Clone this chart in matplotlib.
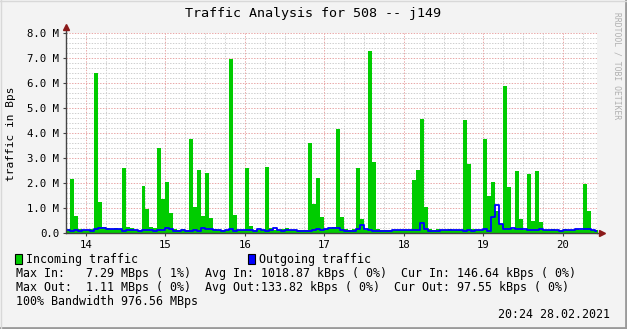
import matplotlib
matplotlib.use("Agg")
import matplotlib.pyplot as plt
from matplotlib.patches import Rectangle
from matplotlib.lines import Line2D
import numpy as np

W, H = 627, 329
MONO = "DejaVu Sans Mono"
GREEN, BLUE = "#00CC00", "#0000FF"
BG = "#F3F3F3"

# 3-minute samples starting 13:45, values in MBps
T0, STEP = 13.75, 0.05
traffic_in = [
    0.15, 2.16, 0.68, 0.15, 0.12, 0.12, 0.14, 6.39, 1.24, 0.25,
    0.20, 0.15, 0.20, 0.15, 2.60, 0.25, 0.18, 0.10, 0.12, 1.88,
    0.96, 0.25, 0.20, 3.40, 1.36, 2.04, 0.80, 0.15, 0.10, 0.15,
    0.12, 3.76, 1.04, 2.52, 0.69, 2.40, 0.60, 0.15, 0.12, 0.12,
    0.12, 6.96, 0.72, 0.12, 0.12, 2.60, 0.28, 0.12, 0.12, 0.12,
    2.64, 0.20, 0.12, 0.12, 0.15, 0.18, 0.12, 0.12, 0.12, 0.12,
    0.12, 3.60, 1.16, 2.20, 0.64, 0.15, 0.20, 0.25, 4.16, 0.64,
    0.15, 0.12, 0.15, 2.60, 0.56, 0.12, 7.28, 2.84, 0.15, 0.12,
    0.12, 0.12, 0.12, 0.12, 0.12, 0.12, 0.12, 2.12, 2.52, 4.56,
    1.04, 0.15, 0.12, 0.15, 0.12, 0.12, 0.15, 0.12, 0.12, 0.12,
    4.52, 2.76, 0.15, 0.12, 0.12, 3.76, 1.48, 2.04, 0.88, 0.36,
    5.88, 1.84, 0.15, 2.48, 0.56, 0.12, 2.36, 0.48, 2.48, 0.44,
    0.12, 0.12, 0.15, 0.12, 0.12, 0.15, 0.12, 0.12, 0.15, 0.12,
    1.96, 0.88, 0.12, 0.10,
]
traffic_out = [
    0.12, 0.08, 0.12, 0.10, 0.12, 0.12, 0.08, 0.18, 0.22, 0.22,
    0.17, 0.17, 0.15, 0.15, 0.10, 0.12, 0.12, 0.12, 0.10, 0.12,
    0.12, 0.12, 0.08, 0.12, 0.12, 0.22, 0.15, 0.10, 0.10, 0.12,
    0.10, 0.10, 0.12, 0.10, 0.20, 0.15, 0.15, 0.12, 0.12, 0.10,
    0.12, 0.17, 0.08, 0.12, 0.12, 0.12, 0.12, 0.10, 0.17, 0.12,
    0.10, 0.12, 0.22, 0.12, 0.08, 0.12, 0.12, 0.12, 0.10, 0.10,
    0.10, 0.10, 0.12, 0.15, 0.12, 0.15, 0.20, 0.20, 0.20, 0.12,
    0.10, 0.10, 0.10, 0.15, 0.31, 0.15, 0.12, 0.10, 0.10, 0.10,
    0.10, 0.10, 0.12, 0.12, 0.12, 0.12, 0.12, 0.14, 0.14, 0.39,
    0.15, 0.10, 0.10, 0.10, 0.12, 0.12, 0.14, 0.14, 0.12, 0.12,
    0.10, 0.12, 0.10, 0.12, 0.12, 0.15, 0.08, 0.63, 1.11, 0.35,
    0.16, 0.18, 0.20, 0.15, 0.15, 0.15, 0.12, 0.14, 0.12, 0.15,
    0.12, 0.12, 0.12, 0.12, 0.10, 0.12, 0.12, 0.12, 0.18, 0.15,
    0.15, 0.15, 0.12, 0.10,
]
hour_ticks = [14, 15, 16, 17, 18, 19, 20]
y_ticks = [0, 1, 2, 3, 4, 5, 6, 7, 8]
y_labels = ["0.0"] + [f"{v:.1f} M" for v in y_ticks[1:]]

title = "Traffic Analysis for 508 -- j149"
stats = [
    "Max In:   7.29 MBps ( 1%)  Avg In: 1018.87 kBps ( 0%)  Cur In: 146.64 kBps ( 0%)",
    "Max Out:  1.11 MBps ( 0%)  Avg Out:133.82 kBps ( 0%)  Cur Out: 97.55 kBps ( 0%)",
    "100% Bandwidth 976.56 MBps",
]
stamp = "20:24 28.02.2021"


def fx(x):
    return x / W


def fy(y):
    return 1 - y / H


fig = plt.figure(figsize=(W / 100, H / 100), dpi=100, facecolor=BG)
ax = fig.add_axes([fx(66), fy(233), (597 - 66) / W, 200 / H], facecolor="white")

t = T0 + STEP * np.arange(len(traffic_in) + 1)
vin = np.append(traffic_in, traffic_in[-1])
vout = np.append(traffic_out, traffic_out[-1])

# grid: minor grey every 15 min / 0.2 M, major red every hour / 1 M
x_end = T0 + 531 / 79.5
dots = (0, (1.4, 1.4))
for h in np.arange(13.75, x_end, 0.25):
    if abs(h - round(h)) > 1e-6:
        ax.axvline(h, color="#CFCFCF", lw=0.72, ls=dots, zorder=0)
for v in np.arange(0.2, 8.01, 0.2):
    if abs(v - round(v)) > 1e-6:
        ax.axhline(v, color="#CFCFCF", lw=0.72, ls=dots, zorder=0)
for h in hour_ticks:
    ax.axvline(h, color="#E9A8A8", lw=0.72, ls=dots, zorder=0.5)
for v in y_ticks[1:]:
    ax.axhline(v, color="#E9A8A8", lw=0.72, ls=dots, zorder=0.5)

ax.fill_between(t, vin, step="post", color=GREEN, lw=0, zorder=2)
ax.step(t, vout, where="post", color=BLUE, lw=1.3, zorder=3)

ax.set_xlim(T0, x_end)
ax.set_ylim(0, 8)
ax.set_xticks(hour_ticks)
ax.set_xticklabels([str(h) for h in hour_ticks], fontsize=7.7, family=MONO)
ax.set_yticks(y_ticks)
ax.set_yticklabels(y_labels, fontsize=7.7, family=MONO)
ax.tick_params(axis="both", length=2, width=0.8, color="#444444", pad=3)
for s in ("top", "right"):
    ax.spines[s].set_visible(False)
for s in ("left", "bottom"):
    ax.spines[s].set_color("#444444")
    ax.spines[s].set_linewidth(1)
    ax.spines[s].set_zorder(4)

# axis extensions with arrow heads
ax.plot([0, 0], [1, 1.025], color="#444444", lw=1, transform=ax.transAxes, clip_on=False)
ax.plot([1, 1.008], [0, 0], color="#444444", lw=1, transform=ax.transAxes, clip_on=False)
ax.plot([0], [1.028], marker="^", ms=4, color="#8B1A1A", transform=ax.transAxes, clip_on=False)
ax.plot([1.01], [0], marker=">", ms=4, color="#8B1A1A", transform=ax.transAxes, clip_on=False)

fig.text(fx(313), fy(13), title, ha="center", va="center", fontsize=9.6, family=MONO)
fig.text(fx(11), fy(134), "traffic in Bps", rotation=90, ha="center", va="center",
         fontsize=8, family=MONO)
fig.text(fx(617), fy(66), "RRDTOOL / TOBI OETIKER", rotation=270, ha="center", va="center",
         fontsize=5.8, family=MONO, color="#B0B0B0")

# legend
for x0, col, lab in ((15, GREEN, "Incoming traffic"), (248, BLUE, "Outgoing traffic")):
    fig.patches.append(Rectangle((fx(x0), fy(264)), 7 / W, 10 / H, transform=fig.transFigure,
                                 facecolor=col, edgecolor="black", lw=0.8))
    fig.text(fx(x0 + 11), fy(259), lab, ha="left", va="center", fontsize=8.4, family=MONO)
for i, line in enumerate(stats):
    fig.text(fx(16), fy(273 + 14 * i), line, ha="left", va="center", fontsize=8.4, family=MONO)
fig.text(fx(610), fy(315), stamp, ha="right", va="center", fontsize=8.4, family=MONO)

# 3d frame
fig.add_artist(Line2D([0, 1], [fy(328), fy(328)], color="#9A9A9A", lw=2, transform=fig.transFigure))
fig.add_artist(Line2D([fx(626), fx(626)], [0, 1], color="#9A9A9A", lw=2, transform=fig.transFigure))
fig.add_artist(Line2D([0, 1], [fy(0.5), fy(0.5)], color="#D8D8D8", lw=1, transform=fig.transFigure))
fig.add_artist(Line2D([fx(0.5), fx(0.5)], [0, 1], color="#D8D8D8", lw=1, transform=fig.transFigure))

fig.savefig("out.png", dpi=100, facecolor=BG)
